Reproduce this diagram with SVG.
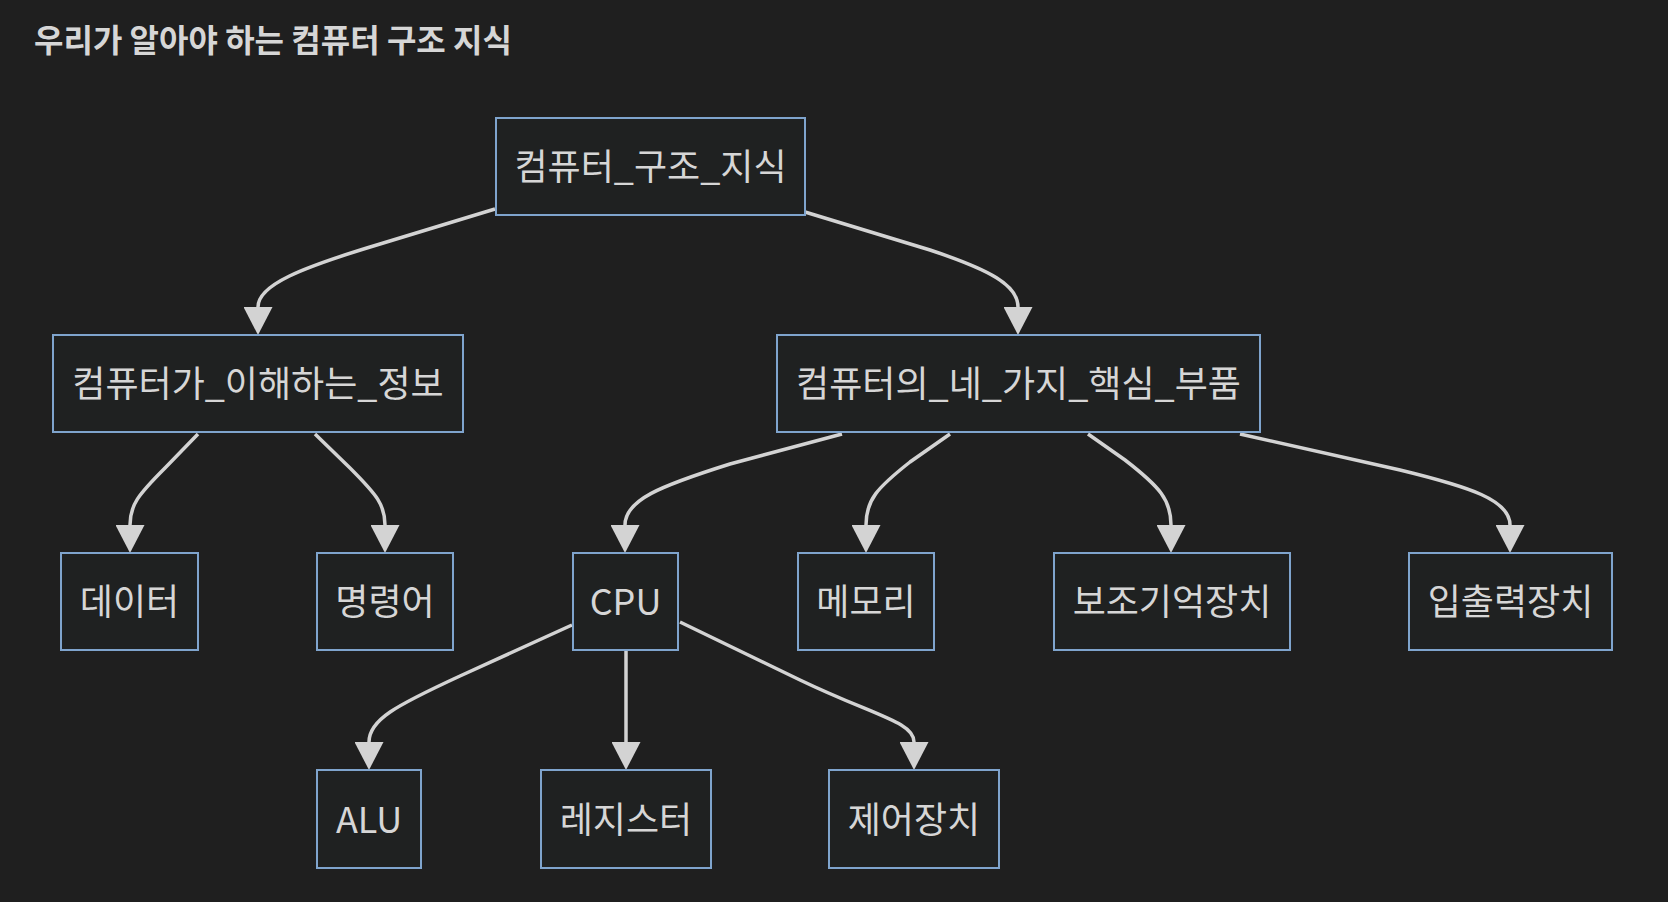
<svg xmlns="http://www.w3.org/2000/svg" width="1668" height="902" viewBox="0 0 1668 902">
<style>
.bg{fill:#1f1f1f}
.node rect{fill:#1f2121;stroke:#7fa4cd;stroke-width:2}
.node text{fill:#d6d6d6;font-family:"Noto Sans CJK KR","Noto Sans",sans-serif;font-size:36px;text-anchor:middle;dominant-baseline:central}
.title{fill:#d6d6d6;font-family:"Noto Sans CJK KR","Noto Sans",sans-serif;font-size:32px;font-weight:bold}
.edges path{fill:none;stroke:#d3d3d3;stroke-width:3.5;marker-end:url(#arrow)}
</style>
<defs>
<marker id="arrow" viewBox="0 0 10 10" refX="0" refY="5" markerUnits="userSpaceOnUse" markerWidth="28" markerHeight="29" preserveAspectRatio="none" orient="auto">
<path d="M0,0 L10,5 L0,10 z" fill="#d3d3d3"/>
</marker>
</defs>
<rect class="bg" x="0" y="0" width="1668" height="902"/>
<text class="title" x="34" y="52">우리가 알아야 하는 컴퓨터 구조 지식</text>
<g class="edges" id="edges">
<path d="M495,209 L380,244 C300,268 258,285 258,307"/>
<path d="M805,212 L930,250 C990,270 1018,285 1018,307"/>
<path d="M198,434 L165,468 C138,495 130,505 130,525"/>
<path d="M315,434 L350,468 C377,495 385,505 385,525"/>
<path d="M842,434 L730,464 C660,486 625,500 625,525"/>
<path d="M950,434 L910,462 C877,488 866,500 866,525"/>
<path d="M1088,434 L1125,460 C1160,487 1171,500 1171,525"/>
<path d="M1240,434 L1400,470 C1470,487 1510,500 1510,525"/>
<path d="M572,625 L460,676 C395,706 369,720 369,742"/>
<path d="M626,651 L626,742"/>
<path d="M680,622 L800,680 C875,716 914,722 914,742"/>
</g>
<g class="node" id="root"><rect x="496" y="118" width="309" height="97"/><text x="650.5" y="164">컴퓨터_구조_지식</text></g>
<g class="node" id="info"><rect x="53" y="335" width="410" height="97"/><text x="258" y="381">컴퓨터가_이해하는_정보</text></g>
<g class="node" id="parts"><rect x="777" y="335" width="483" height="97"/><text x="1018.5" y="381">컴퓨터의_네_가지_핵심_부품</text></g>
<g class="node" id="data"><rect x="61" y="553" width="137" height="97"/><text x="129.5" y="599">데이터</text></g>
<g class="node" id="instr"><rect x="317" y="553" width="136" height="97"/><text x="385" y="599">명령어</text></g>
<g class="node" id="cpu"><rect x="573" y="553" width="105" height="97"/><text x="625.5" y="599">CPU</text></g>
<g class="node" id="memory"><rect x="798" y="553" width="136" height="97"/><text x="866" y="599">메모리</text></g>
<g class="node" id="storage"><rect x="1054" y="553" width="236" height="97"/><text x="1172" y="599">보조기억장치</text></g>
<g class="node" id="io"><rect x="1409" y="553" width="203" height="97"/><text x="1510.5" y="599">입출력장치</text></g>
<g class="node" id="alu"><rect x="317" y="770" width="104" height="98"/><text x="369" y="816.5">ALU</text></g>
<g class="node" id="register"><rect x="541" y="770" width="170" height="98"/><text x="626" y="816.5">레지스터</text></g>
<g class="node" id="control"><rect x="829" y="770" width="170" height="98"/><text x="914" y="816.5">제어장치</text></g>
</svg>
